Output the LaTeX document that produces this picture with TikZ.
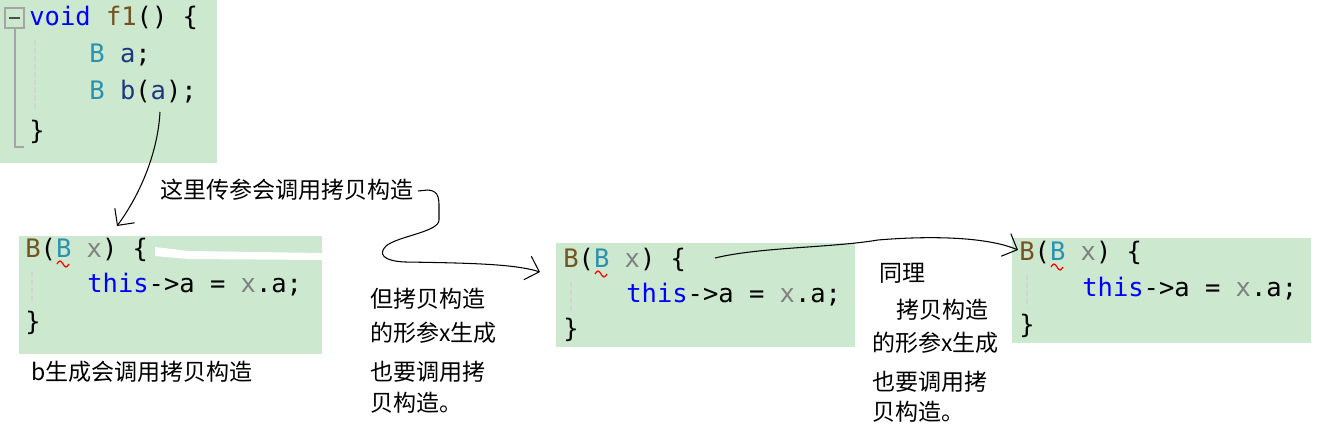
\documentclass[tikz,border=0pt]{standalone}
\usepackage{fontspec}
\usetikzlibrary{arrows.meta}

\newfontfamily\cjkfont{Noto Sans CJK SC}
\newfontfamily\codefont{DejaVu Sans Mono}

\definecolor{panelbg}{HTML}{CCE8CF}
\definecolor{kwblue}{HTML}{0000FF}
\definecolor{fnbrown}{HTML}{74531F}
\definecolor{typeteal}{HTML}{2B91AF}
\definecolor{vardark}{HTML}{1F377F}
\definecolor{parmgray}{HTML}{808080}
\definecolor{guidegray}{HTML}{D4D4D4}
\definecolor{foldgray}{HTML}{A5A5A5}

\newcommand\ctorhead{\textcolor{fnbrown}{B}(\textcolor{typeteal}{B} \textcolor{parmgray}{x}) \{}
\newcommand\ctorbody{\textcolor{kwblue}{this}->a = \textcolor{parmgray}{x}.a;}
\newcommand\squig[1]{\draw[squiggle] (#1) ++(32,7) sin ++(3,-3) cos ++(3,3) sin ++(3,3) cos ++(3,-3);}

\begin{document}
\begin{tikzpicture}[x=0.02cm, y=-0.02cm,
  code/.style={anchor=base west, inner sep=0pt, font=\codefont\fontsize{14.5}{17}\selectfont},
  note/.style={anchor=base west, inner sep=0pt, font=\cjkfont\fontsize{13.1}{16}\selectfont},
  panel/.style={fill=panelbg},
  guide/.style={guidegray, line width=1pt, dash pattern=on 3pt off 1.5pt},
  arrow/.style={-{Straight Barb[length=7pt,width=14pt]}, line width=0.6pt},
  squiggle/.style={red, line width=0.7pt}
]
\useasboundingbox (0,0) rectangle (1318,439);

% Code panels
\fill[panel] (0,0) rectangle (217,163);
\fill[panel] (19,236) rectangle (322,354);
\fill[panel] (556,243) rectangle (855,347);
\fill[panel] (1012,238) rectangle (1311,343);
\fill[white] (155,247) -- (188,251) -- (322,253) -- (322,260) -- (188,259) -- (155,256) -- cycle;

% Fold marker and indent guides
\draw[foldgray, line width=0.8pt] (5,8) rectangle (24,28);
\draw[black!70, line width=0.9pt] (9,18) -- (20,18);
\draw[foldgray, line width=1.2pt] (15,28) -- (15,147) -- (24,147);
\draw[guide] (35,40) -- (35,110);
\draw[guide] (32,272) -- (32,303);
\draw[guide] (571,282) -- (571,312);
\draw[guide] (1027,275) -- (1027,308);

% f1 body
\node[code] (fOne) at (29,26) {\textcolor{kwblue}{void} \textcolor{fnbrown}{f1}() \{};
\node[code] (declA) at (89,63) {\textcolor{typeteal}{B} \textcolor{vardark}{a};};
\node[code] (declB) at (89,100) {\textcolor{typeteal}{B} \textcolor{vardark}{b}(\textcolor{vardark}{a});};
\node[code] (fEnd) at (29,139) {\}};

% Copy constructor, three times
\node[code] (headA) at (25,257) {\ctorhead};
\node[code] (bodyA) at (87,292) {\ctorbody};
\node[code] (endA) at (25,330) {\}};
\node[code] (headB) at (563,267) {\ctorhead};
\node[code] (bodyB) at (626,302) {\ctorbody};
\node[code] (endB) at (563,337) {\}};
\node[code] (headC) at (1019,260) {\ctorhead};
\node[code] (bodyC) at (1082,296) {\ctorbody};
\node[code] (endC) at (1019,333) {\}};
\squig{headA.base west}
\squig{headB.base west}
\squig{headC.base west}

% Notes
\node[note] (passNote) at (160,198) {这里传参会调用拷贝构造};
\node[note] (bNote) at (31,380) {b生成会调用拷贝构造};
\node[note] (midOne) at (370,307) {但拷贝构造};
\node[note] (midTwo) at (370,341) {的形参x生成};
\node[note] (midThree) at (370,380) {也要调用拷};
\node[note] (midFour) at (370,411) {贝构造。};
\node[note] (rightOne) at (879,281) {同理};
\node[note] (rightTwo) at (896,318) {拷贝构造};
\node[note] (rightThree) at (872,351) {的形参x生成};
\node[note] (rightFour) at (872,390) {也要调用拷};
\node[note] (rightFive) at (872,420) {贝构造。};

% Hand-drawn arrows
\coordinate (argA) at (160,112);
\coordinate (tipA) at (117,226);
\coordinate (noteEnd) at (418,191);
\coordinate (tipB) at (540,272);
\coordinate (bodyStart) at (715,258);
\coordinate (tipC) at (1018,250);
\draw[arrow] (argA) .. controls (158,150) and (142,192) .. (tipA);
\draw[arrow] (noteEnd) -- (428,190) .. controls (440,191) and (439,200) .. (439,212) -- (439,220)
  .. controls (439,232) and (398,236) .. (386,246) .. controls (378,254) and (383,261) .. (405,262)
  .. controls (470,263) and (515,264) .. (tipB);
\draw[arrow] (bodyStart) .. controls (760,247) and (830,248) .. (878,240) .. controls (925,236) and (985,236) .. (tipC);

\end{tikzpicture}
\end{document}
